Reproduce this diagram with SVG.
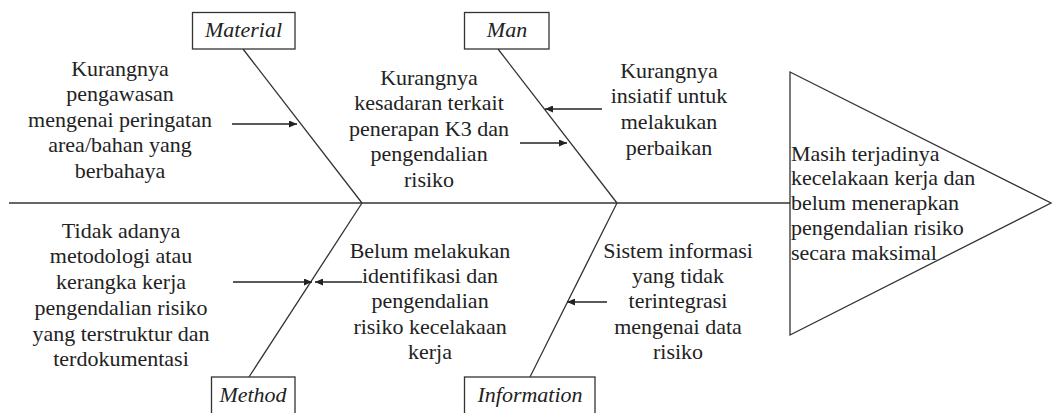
<svg xmlns="http://www.w3.org/2000/svg" width="1052" height="413" viewBox="0 0 1052 413">
<style>
.ln{stroke:#333;stroke-width:1.3;fill:none}
.box{stroke:#333;stroke-width:1.3;fill:#fff}
text{font-family:"Liberation Serif","Tinos","DejaVu Serif",serif;font-size:20px;fill:#222}
.c{text-anchor:middle}
.lab{font-style:italic;text-anchor:middle}
.arr{stroke:#222;stroke-width:1.3;fill:none;marker-end:url(#ah)}
</style>
<defs>
<marker id="ah" markerUnits="userSpaceOnUse" markerWidth="9" markerHeight="7" refX="8" refY="3.5" orient="auto">
<path d="M0,0 L8,3.5 L0,7 z" fill="#222"/>
</marker>
</defs>
<rect width="1052" height="413" fill="#fff"/>
<g id="connectors">
<line class="ln" x1="9" y1="203" x2="790" y2="203"/>
<line class="ln" x1="243" y1="49" x2="362" y2="203"/>
<line class="ln" x1="498" y1="49" x2="617" y2="203"/>
<line class="ln" x1="249" y1="377" x2="362" y2="203"/>
<line class="ln" x1="530" y1="377" x2="617" y2="203"/>
<line class="arr" x1="232" y1="124" x2="297" y2="124"/>
<line class="arr" x1="520" y1="143" x2="567" y2="143"/>
<line class="arr" x1="602" y1="109" x2="545" y2="109"/>
<line class="arr" x1="233" y1="282" x2="312" y2="282"/>
<line class="arr" x1="362" y1="282" x2="315" y2="282"/>
<line class="arr" x1="607" y1="302" x2="567" y2="302"/>
</g>
<g id="effect">
<polygon class="ln" points="790,72 1051,203 790,335"/>
<text transform="translate(791,0) scale(1.1,1)"><tspan x="0" y="161">Masih terjadinya</tspan><tspan x="0" y="185.5">kecelakaan kerja dan</tspan><tspan x="0" y="210.5">belum menerapkan</tspan><tspan x="0" y="235">pengendalian risiko</tspan><tspan x="0" y="260">secara maksimal</tspan></text>
</g>
<g id="cat-material">
<rect class="box" x="192.5" y="12.5" width="102.5" height="36.5"/>
<text class="lab" transform="translate(243.5,0) scale(1.1,1)" x="0" y="37">Material</text>
</g>
<g id="cat-man">
<rect class="box" x="464.5" y="12.5" width="84.5" height="36.5"/>
<text class="lab" transform="translate(507,0) scale(1.1,1)" x="0" y="37">Man</text>
</g>
<g id="cat-method">
<rect class="box" x="211.5" y="377" width="83.5" height="45"/>
<text class="lab" transform="translate(253,0) scale(1.1,1)" x="0" y="402">Method</text>
</g>
<g id="cat-information">
<rect class="box" x="464.5" y="377" width="130.5" height="45"/>
<text class="lab" transform="translate(530,0) scale(1.1,1)" x="0" y="402">Information</text>
</g>
<g id="cause-material">
<text class="c" transform="translate(120,0) scale(1.1,1)"><tspan x="0" y="76">Kurangnya</tspan><tspan x="0" y="101.5">pengawasan</tspan><tspan x="0" y="127">mengenai peringatan</tspan><tspan x="0" y="152.5">area/bahan yang</tspan><tspan x="0" y="178">berbahaya</tspan></text>
</g>
<g id="cause-man-1">
<text class="c" transform="translate(429,0) scale(1.1,1)"><tspan x="0" y="85">Kurangnya</tspan><tspan x="0" y="110.5">kesadaran terkait</tspan><tspan x="0" y="136">penerapan K3 dan</tspan><tspan x="0" y="161.5">pengendalian</tspan><tspan x="0" y="187">risiko</tspan></text>
</g>
<g id="cause-man-2">
<text class="c" transform="translate(669,0) scale(1.1,1)"><tspan x="0" y="78">Kurangnya</tspan><tspan x="0" y="103.5">insiatif untuk</tspan><tspan x="0" y="129.5">melakukan</tspan><tspan x="0" y="155">perbaikan</tspan></text>
</g>
<g id="cause-method-1">
<text class="c" transform="translate(121,0) scale(1.1,1)"><tspan x="0" y="238">Tidak adanya</tspan><tspan x="0" y="263.5">metodologi atau</tspan><tspan x="0" y="289.5">kerangka kerja</tspan><tspan x="0" y="315">pengendalian risiko</tspan><tspan x="0" y="341">yang terstruktur dan</tspan><tspan x="0" y="366.5">terdokumentasi</tspan></text>
</g>
<g id="cause-method-2">
<text class="c" transform="translate(430,0) scale(1.1,1)"><tspan x="0" y="258">Belum melakukan</tspan><tspan x="0" y="283">identifikasi dan</tspan><tspan x="0" y="308.5">pengendalian</tspan><tspan x="0" y="334">risiko kecelakaan</tspan><tspan x="0" y="359">kerja</tspan></text>
</g>
<g id="cause-information">
<text class="c" transform="translate(678,0) scale(1.1,1)"><tspan x="0" y="258">Sistem informasi</tspan><tspan x="0" y="283">yang tidak</tspan><tspan x="0" y="308.5">terintegrasi</tspan><tspan x="0" y="334">mengenai data</tspan><tspan x="0" y="359">risiko</tspan></text>
</g>
</svg>
